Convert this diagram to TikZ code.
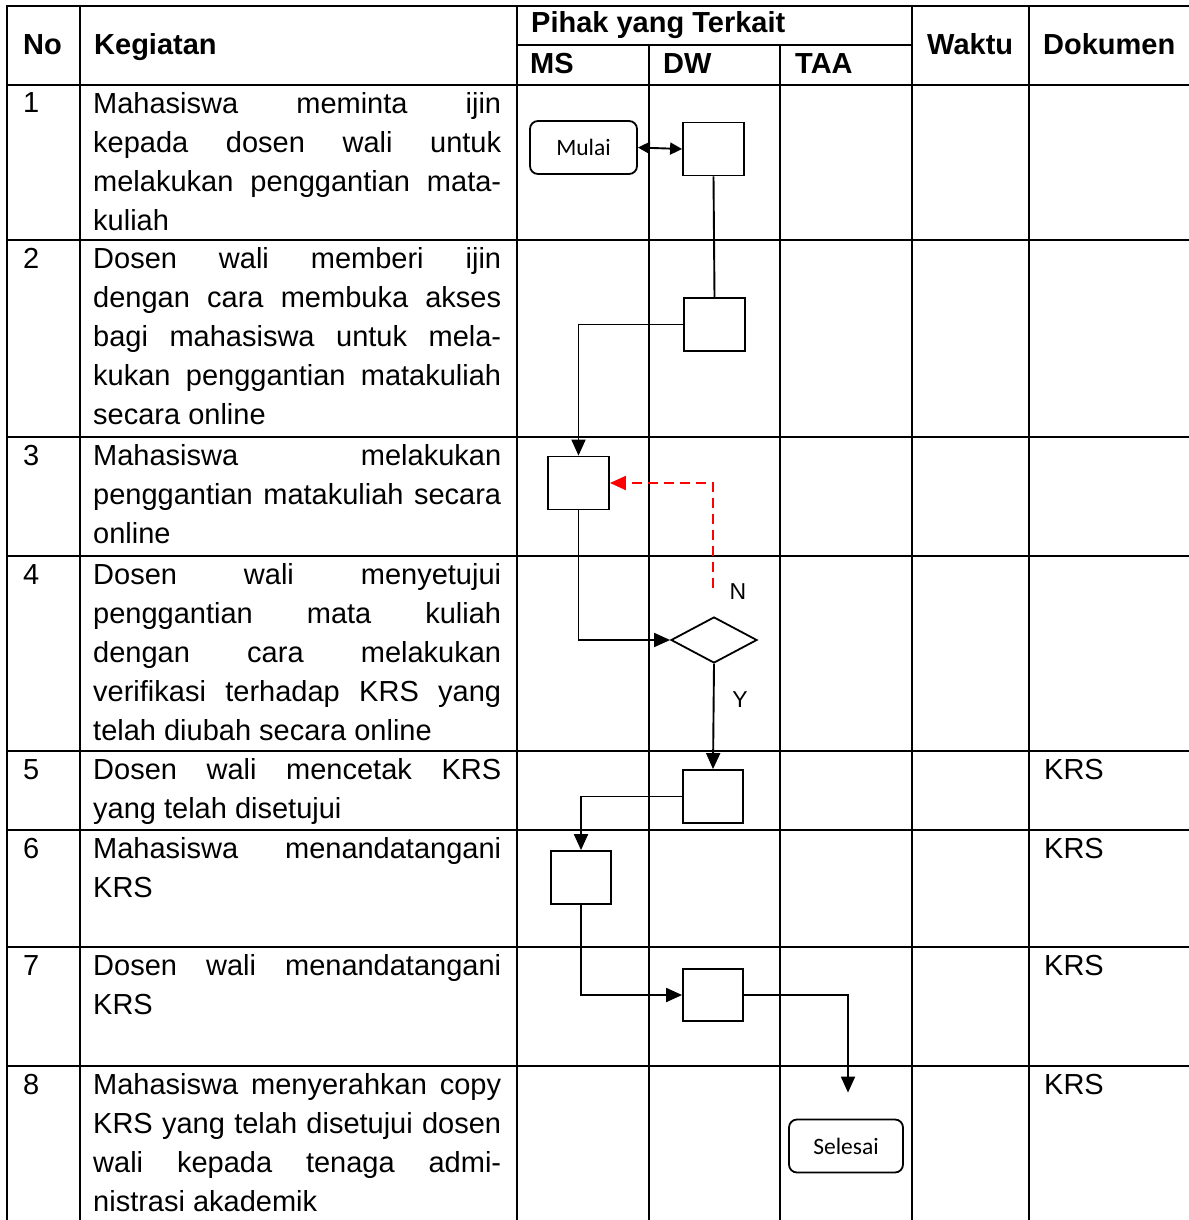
\documentclass[tikz,border=0pt]{standalone}
\usepackage{fontspec}
\setmainfont{Liberation Sans}
\newfontfamily\calibrifont{Carlito}
\usetikzlibrary{shapes.geometric,arrows.meta,calc}

\begin{document}
\begin{tikzpicture}[x=1pt, y=-1pt,
  grid/.style={line width=2.4pt, line cap=rect},
  head/.style={anchor=base west, inner sep=0pt, font=\fontsize{29}{39}\selectfont\bfseries},
  cell/.style={anchor=base west, inner sep=0pt, font=\fontsize{29}{39}\selectfont},
  kegiatan/.style={anchor=north west, inner sep=0pt, text width=408pt, align=justify, font=\fontsize{29}{39}\selectfont},
  proses/.style={draw, line width=1.8pt, minimum width=61pt, minimum height=53pt, inner sep=0pt},
  terminal/.style={draw, line width=1.8pt, rounded corners=8pt, minimum height=53pt, inner sep=0pt, font=\calibrifont\fontsize{23.5}{28}\selectfont},
  keputusan/.style={draw, diamond, line width=1.8pt, minimum width=86pt, minimum height=46pt, inner sep=0pt},
  alur/.style={line width=1.9pt, -{Triangle[length=16pt,width=14pt]}},
  tolak/.style={line width=2pt, red, dash pattern=on 10pt off 6pt, -{Triangle[length=16pt,width=14pt]}},
  label/.style={inner sep=0pt, font=\fontsize{23}{28}\selectfont}]
\useasboundingbox (0,0) rectangle (1188,1220);

% garis tabel
\draw[grid] (7,6) -- (1188,6);
\draw[grid] (517,45) -- (912,45);
\draw[grid] (7,85) -- (1188,85);
\foreach \y in {240,437,556,751,830,947,1066}
  \draw[grid] (7,\y) -- (1188,\y);
\foreach \x in {7,80,517,912,1029}
  \draw[grid] (\x,6) -- (\x,1220);
\foreach \x in {649,780}
  \draw[grid] (\x,45) -- (\x,1220);

% judul kolom
\node[head] (hno) at (23,55) {No};
\node[head] (hkeg) at (94,55) {Kegiatan};
\node[head] (hpihak) at (531,33) {Pihak yang Terkait};
\node[head] (hms) at (530,74) {MS};
\node[head] (hdw) at (663,74) {DW};
\node[head] (htaa) at (795,74) {TAA};
\node[head] (hwaktu) at (927,55) {Waktu};
\node[head] (hdok) at (1043,55) {Dokumen};

% nomor
\foreach \n/\y in {1/85,2/240,3/437,4/556,5/751,6/830,7/947,8/1066}
  \node[cell] (no\n) at (23,\y+28) {\n};

% kegiatan
\node[kegiatan] (k1) at (93,86) {\strut Mahasiswa meminta ijin\linebreak kepada dosen wali untuk\linebreak melakukan penggantian mata-\linebreak kuliah};
\node[kegiatan] (k2) at (93,241) {\strut Dosen wali memberi ijin\linebreak dengan cara membuka akses\linebreak bagi mahasiswa untuk mela-\linebreak kukan penggantian matakuliah\linebreak secara online};
\node[kegiatan] (k3) at (93,438) {\strut Mahasiswa melakukan\linebreak penggantian matakuliah secara\linebreak online};
\node[kegiatan] (k4) at (93,557) {\strut Dosen wali menyetujui\linebreak penggantian mata kuliah\linebreak dengan cara melakukan\linebreak verifikasi terhadap KRS yang\linebreak telah diubah secara online};
\node[kegiatan] (k5) at (93,752) {\strut Dosen wali mencetak KRS\linebreak yang telah disetujui};
\node[kegiatan] (k6) at (93,831) {\strut Mahasiswa menandatangani\linebreak KRS};
\node[kegiatan] (k7) at (93,948) {\strut Dosen wali menandatangani\linebreak KRS};
\node[kegiatan] (k8) at (93,1067) {\strut Mahasiswa menyerahkan copy\linebreak KRS yang telah disetujui dosen\linebreak wali kepada tenaga admi-\linebreak nistrasi akademik};

% dokumen
\foreach \n/\y in {5/751,6/830,7/947,8/1066}
  \node[cell] (dok\n) at (1044,\y+28) {KRS};

% bagan alir
\node[terminal, minimum width=107pt] (mulai) at (583.5,147.5) {Mulai};
\node[proses] (p1) at (713.5,149) {};
\node[proses] (p2) at (714.5,324.5) {};
\node[proses] (p3) at (578.5,483) {};
\node[keputusan] (cek) at (714,640) {};
\node[proses, minimum width=60pt] (p5) at (713,796.5) {};
\node[proses, minimum width=60pt] (p6) at (581,877.5) {};
\node[proses, minimum width=60pt, minimum height=52pt] (p7) at (713,995) {};
\node[terminal, minimum width=114pt] (selesai) at (846,1146) {Selesai};

\coordinate (ujungN) at (713,588);
\coordinate (ujungAkhir) at ($(selesai.north)+(2,-26)$);

\draw[line width=1.9pt, {Triangle[length=12pt,width=12pt]}-{Triangle[length=12pt,width=12pt]}] (mulai.east) -- (p1.west);
\draw[line width=1.9pt] (p1.south) -- (p2.north);
\draw[alur] (p2.west) -| (p3.north);
\draw[alur] (p3.south) |- (cek.west);
\draw[alur] (cek.south) -- (p5.north);
\draw[alur] (p5.west) -| (p6.north);
\draw[alur] (p6.south) |- (p7.west);
\draw[alur] (p7.east) -| (ujungAkhir);
\draw[tolak] (ujungN) |- (p3.east);

\node[label] (tN) at (738,592) {N};
\node[label] (tY) at (740,700) {Y};
\end{tikzpicture}
\end{document}
